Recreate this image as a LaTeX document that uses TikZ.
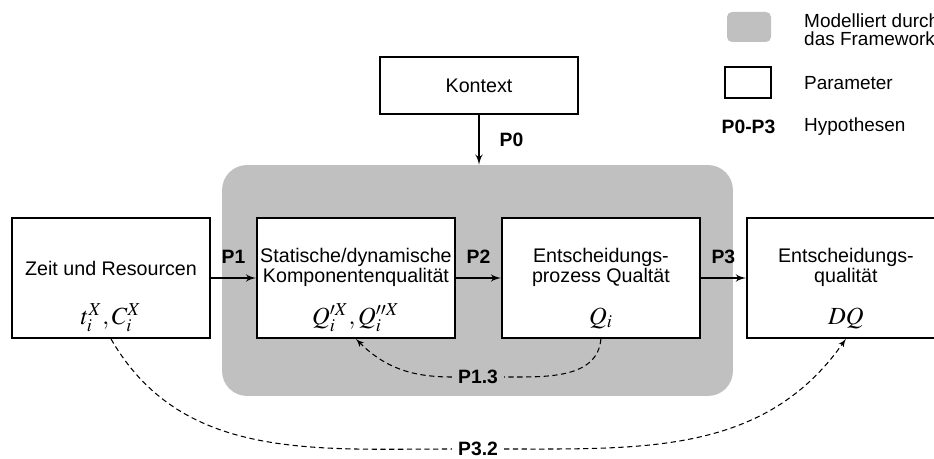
\documentclass[tikz,border=0pt]{standalone}
\usepackage{mathptmx}
\usepackage{fontspec}
\setmainfont{Liberation Sans}
\usetikzlibrary{arrows,positioning}
\definecolor{fwgray}{RGB}{192,192,192}
\tikzstyle{param}=[draw, line width=1.1pt, fill=white, minimum width=3.96cm, minimum height=2.4cm, inner sep=0pt]
\tikzstyle{framework}=[fill=fwgray, rounded corners=0.5cm, minimum width=10.22cm, minimum height=4.62cm]
\tikzstyle{ptitle}=[align=center, font=\fontsize{11.2}{10.4}\selectfont]
\tikzstyle{formula}=[font=\fontsize{14}{16}\selectfont]
\tikzstyle{hyp}=[font=\fontsize{11}{12}\selectfont\bfseries]
\tikzstyle{flow}=[line width=1pt]
\tikzstyle{link}=[line width=0.6pt, dash pattern=on 3pt off 2pt]
\tikzstyle{legend}=[anchor=west, align=left, font=\fontsize{10.8}{10}\selectfont]

\begin{document}
\begin{tikzpicture}[x=0.02cm,y=-0.02cm,>=latex',font=\fontsize{11.2}{12}\selectfont]
    \useasboundingbox (0,0) rectangle (934,459);
    % framework area
    \node [framework] (fw) at (477.5,280.5) {};
    % parameters
    \node [param] (zeit) at (111,278) {};
    \node [param] (statisch) [right of=zeit,node distance=4.9cm] {};
    \node [param] (prozess) [right of=statisch,node distance=4.9cm] {};
    \node [param] (dq) [right of=prozess,node distance=4.9cm] {};
    \node [param,minimum height=1.14cm] (kontext) at (479,85.5) {Kontext};
    \node [ptitle] (zeit-t) at ([yshift=0.2cm]zeit.center) {Zeit und Resourcen};
    \node [ptitle] (statisch-t) at ([yshift=0.22cm]statisch.center) {Statische/dynamische\\Komponentenqualität};
    \node [ptitle] (prozess-t) at ([yshift=0.22cm]prozess.center) {Entscheidungs-\\prozess Qualtät};
    \node [ptitle] (dq-t) at ([yshift=0.22cm]dq.center) {Entscheidungs-\\qualität};
    \node [formula] (zeit-f) at ([yshift=-0.8cm]zeit.center) {$t_i^X, C_i^X$};
    \node [formula] (statisch-f) at ([yshift=-0.8cm]statisch.center) {$Q_i^{\prime X}, Q_i^{\prime\prime X}$};
    \node [formula] (prozess-f) at ([yshift=-0.8cm]prozess.center) {$Q_i$};
    \node [formula] (dq-f) at ([yshift=-0.8cm]dq.center) {$DQ$};
    % hypotheses
    \path[flow,->]
    (zeit) edge node[hyp,above=0.15cm] {P1} (statisch)
    (statisch) edge node[hyp,above=0.15cm] {P2} (prozess)
    (prozess) edge node[hyp,above=0.15cm] {P3} (dq)
    (kontext) edge node[hyp,right=0.28cm] {P0} (kontext |- fw.north);
    \node [hyp] (p13) at (478,377) {P1.3};
    \node [hyp] (p32) at (478,449) {P3.2};
    \draw[link] (prozess.south) to[out=-95,in=0] (p13.east);
    \draw[link,->] (p13.west) to[out=180,in=-45] (statisch.south);
    \draw[link] (zeit.south) to[out=-60,in=180] (p32.west);
    \draw[link,->] (p32.east) to[out=0,in=-125] (dq.south);
    % legend
    \node [framework,minimum width=0.88cm,minimum height=0.6cm,rounded corners=0.1cm] (lg-fw) at (749,27) {};
    \node [param,minimum width=0.92cm,minimum height=0.62cm] (lg-par) at (748,82.5) {};
    \node [hyp] (lg-hyp) at (748.5,127) {P0-P3};
    \node [legend] (lg-fw-t) at (798,30) {Modelliert durch\\das Framework};
    \node [legend] (lg-par-t) at (798,83) {Parameter};
    \node [legend] (lg-hyp-t) at (798,127) {Hypothesen};
\end{tikzpicture}
\end{document}
